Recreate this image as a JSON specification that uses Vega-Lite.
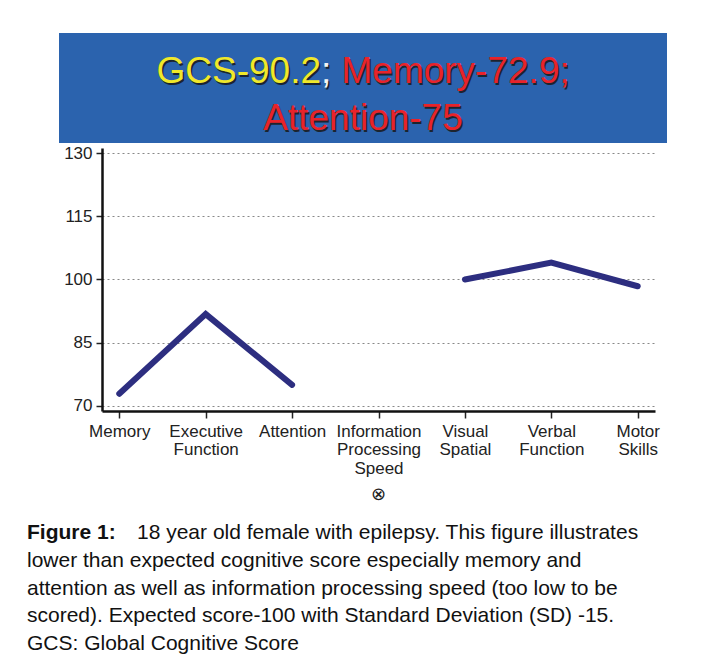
{
  "$schema": "https://vega.github.io/schema/vega-lite/v6.json",
  "padding": {"left": 27, "top": 33, "right": 5, "bottom": 0},
  "autosize": {"type": "pad"},
  "background": "white",
  "spacing": 1,
  "config": {
    "view": {"stroke": null},
    "font": "Liberation Sans",
    "text": {"font": "Liberation Sans"}
  },
  "datasets": {
    "scores": [
      {"domain": "Memory", "score": 72.9, "segment": "A"},
      {"domain": "Executive Function", "score": 91.8, "segment": "A"},
      {"domain": "Attention", "score": 75, "segment": "A"},
      {"domain": "Information Processing Speed", "score": null, "segment": "none"},
      {"domain": "Visual Spatial", "score": 100, "segment": "B"},
      {"domain": "Verbal Function", "score": 104, "segment": "B"},
      {"domain": "Motor Skills", "score": 98.4, "segment": "B"}
    ],
    "notscored": [
      {"domain": "Information Processing Speed", "symbol": "⊗", "level": 48.9}
    ],
    "one": [{"k": 1}]
  },
  "vconcat": [
    {
      "width": 608,
      "height": 110,
      "view": {"fill": "#2B63AE", "stroke": null},
      "data": {"name": "one"},
      "layer": [
        {"mark": {"type": "text", "text": "GCS-90.2", "align": "right", "baseline": "alphabetic", "fontSize": 37, "dx": -40.5, "dy": -3.5, "color": "#1a1a1a", "opacity": 0.85}},
        {"mark": {"type": "text", "text": ";", "align": "left", "baseline": "alphabetic", "fontSize": 37, "dx": -40.5, "dy": -3.5, "color": "#1a1a1a", "opacity": 0.85}},
        {"mark": {"type": "text", "text": "Memory-72.9;", "align": "left", "baseline": "alphabetic", "fontSize": 37, "dx": -20, "dy": -3.5, "color": "#1a1a1a", "opacity": 0.85}},
        {"mark": {"type": "text", "text": "Attention-75", "align": "center", "baseline": "alphabetic", "fontSize": 37, "dx": 1.5, "dy": 43.5, "color": "#1a1a1a", "opacity": 0.85}},
        {"mark": {"type": "text", "text": "GCS-90.2", "align": "right", "baseline": "alphabetic", "fontSize": 37, "dx": -42, "dy": -5, "color": "#F0E82A"}},
        {"mark": {"type": "text", "text": ";", "align": "left", "baseline": "alphabetic", "fontSize": 37, "dx": -42, "dy": -5, "color": "#F4F4F4"}},
        {"mark": {"type": "text", "text": "Memory-72.9;", "align": "left", "baseline": "alphabetic", "fontSize": 37, "dx": -21.5, "dy": -5, "color": "#E8232A"}},
        {"mark": {"type": "text", "text": "Attention-75", "align": "center", "baseline": "alphabetic", "fontSize": 37, "dx": 0, "dy": 42, "color": "#E8232A"}}
      ]
    },
    {
      "width": 596,
      "height": 263,
      "layer": [
        {
          "data": {"name": "scores"},
          "mark": {"type": "line", "color": "#2D2E80", "strokeWidth": 6, "strokeCap": "round", "strokeJoin": "miter"},
          "encoding": {
            "x": {
              "field": "domain",
              "type": "ordinal",
              "sort": null,
              "scale": {"type": "point", "padding": 0.2, "range": [43, 596], "domain": ["Memory", "Executive Function", "Attention", "Information Processing Speed", "Visual Spatial", "Verbal Function", "Motor Skills"]},
              "axis": {
                "title": null,
                "labelAngle": 0,
                "labelFontSize": 17,
                "labelColor": "#222",
                "labelLineHeight": 18.5,
                "labelPadding": 5,
                "labelExpr": "split(datum.value, ' ')",
                "tickSize": 7,
                "tickColor": "#222",
                "tickWidth": 1.5,
                "domainColor": "#111",
                "domainWidth": 2.5,
                "grid": false
              }
            },
            "y": {
              "field": "score",
              "type": "quantitative",
              "scale": {"domain": [68.8, 131.2], "nice": false, "zero": false},
              "axis": {
                "title": null,
                "offset": -43,
                "values": [70, 85, 100, 115, 130],
                "labelFontSize": 17,
                "labelColor": "#222",
                "labelPadding": 4,
                "tickSize": 6,
                "tickColor": "#222",
                "tickWidth": 1.5,
                "domainColor": "#111",
                "domainWidth": 2.5,
                "grid": true,
                "gridColor": "#888",
                "gridDash": [2, 3],
                "gridWidth": 1
              }
            },
            "detail": {"field": "segment"}
          }
        },
        {
          "data": {"name": "notscored"},
          "mark": {"type": "text", "fontSize": 18, "color": "#222", "baseline": "middle", "clip": false},
          "encoding": {
            "x": {"field": "domain", "type": "ordinal"},
            "y": {"field": "level", "type": "quantitative"},
            "text": {"field": "symbol"}
          }
        }
      ]
    },
    {
      "width": 641,
      "height": 160,
      "data": {"name": "one"},
      "layer": [
        {"mark": {"type": "text", "text": "Figure 1:", "align": "left", "baseline": "alphabetic", "fontSize": 21, "fontWeight": "bold", "color": "#111", "x": -32, "y": 34}},
        {"mark": {"type": "text", "text": "18 year old female with epilepsy. This figure illustrates", "align": "left", "baseline": "alphabetic", "fontSize": 21, "color": "#111", "x": -32, "y": 34, "dx": 110}},
        {"mark": {"type": "text", "text": ["lower than expected cognitive score especially memory and", "attention as well as information processing speed (too low to be", "scored). Expected score-100 with Standard Deviation (SD) -15.", "GCS: Global Cognitive Score"], "lineHeight": 27.75, "align": "left", "baseline": "alphabetic", "fontSize": 21, "color": "#111", "x": -32, "y": 61.75}}
      ]
    }
  ]
}
